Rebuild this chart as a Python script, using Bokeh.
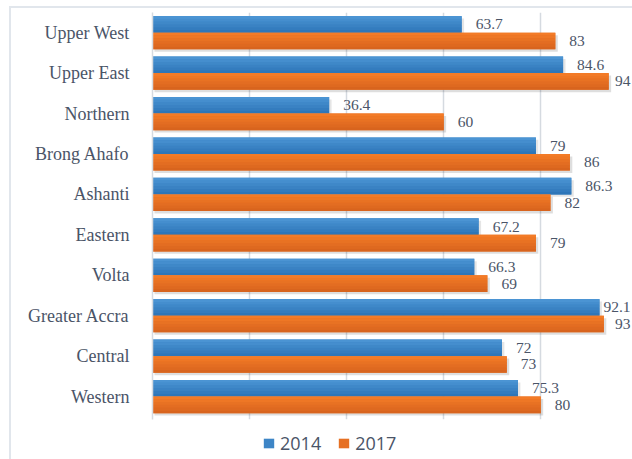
from bokeh.plotting import figure
from bokeh.models import ColumnDataSource, Range1d, Legend, LegendItem, FixedTicker
from bokeh.transform import dodge
from bokeh.core.properties import value
from bokeh.embed import file_html
from bokeh.resources import INLINE

# ---- data ----
regions = ["Upper West", "Upper East", "Northern", "Brong Ahafo", "Ashanti",
           "Eastern", "Volta", "Greater Accra", "Central", "Western"]
v2014 = [63.7, 84.6, 36.4, 79, 86.3, 67.2, 66.3, 92.1, 72, 75.3]
v2017 = [83, 94, 60, 86, 82, 79, 69, 93, 73, 80]
years = ["2014", "2017"]
x_ticks = [0, 20, 40, 60, 80]

# ---- styles ----
BLUE_TOP, BLUE_BOT = (78, 152, 214), (44, 115, 182)
OR_TOP, OR_BOT = (246, 126, 40), (214, 98, 30)
TEXT = "#4A5467"
GRID = "#D5DAE0"
X_END = 98.9
OFF = 0.205
H = 0.41
BELOW = 1.056   # room under the last category for the legend (category units)

n = len(regions)
ypos = [n - 1 - i for i in range(n)]   # first region on top

def fmt(v):
    return "%g" % v

src = ColumnDataSource(dict(region=regions, y=ypos, v2014=v2014, v2017=v2017,
                            s2014=[v + 0.5 for v in v2014], s2017=[v + 0.5 for v in v2017]))

p = figure(width=632, height=459, output_backend="svg", toolbar_location=None,
           y_range=Range1d(-0.5 - BELOW, n - 0.5),
           x_range=Range1d(0, X_END),
           min_border_left=152, min_border_right=0, min_border_top=12, min_border_bottom=0)
p.border_fill_color = None
p.styles = {"background":
            "linear-gradient(#E1E6EC,#E1E6EC) 9px 6px / 2px 100% no-repeat,"
            " linear-gradient(#E1E6EC,#E1E6EC) 9px 6px / 100% 2px no-repeat, white"}
p.outline_line_color = None
p.background_fill_color = "white"

# white panel under the categories (hides the grid there)
p.quad(left=0, right=X_END, bottom=-0.5 - BELOW, top=-0.56, fill_color="white", line_color=None)

# shadows
p.hbar(y=dodge("y", OFF - 0.06, range=p.y_range), left=0.4, right="s2014", height=H,
       source=src, fill_color="black", fill_alpha=0.10, line_color=None)
p.hbar(y=dodge("y", -OFF - 0.06, range=p.y_range), left=0.4, right="s2017", height=H,
       source=src, fill_color="black", fill_alpha=0.13, line_color=None)

def grad(col, top, bot, center, k=6):
    base = p.hbar(y=dodge("y", center, range=p.y_range), left=0, right=col, height=H,
                  source=src, fill_color="#%02x%02x%02x" % tuple((a + b) // 2 for a, b in zip(top, bot)),
                  line_color=None)
    step = H / k
    for i in range(k):
        t = (i + 0.5) / k
        c = tuple(int(a + (b - a) * t) for a, b in zip(top, bot))
        yc = center + H / 2 - step * (i + 0.5)
        p.hbar(y=dodge("y", yc, range=p.y_range), left=0, right=col, height=step * 1.02,
               source=src, fill_color="#%02x%02x%02x" % c, line_color=None)
    return base

r14 = grad("v2014", BLUE_TOP, BLUE_BOT, OFF)
r17 = grad("v2017", OR_TOP, OR_BOT, -OFF)

# data labels
def labels(vals, center):
    xs, al, xo, tx = [], [], [], []
    for v in vals:
        tx.append(fmt(v))
        if v > 90:
            xs.append(X_END); al.append("right"); xo.append(-2)
        else:
            xs.append(v); al.append("left"); xo.append(14)
    s = ColumnDataSource(dict(y=ypos, x=xs, align=al, xoff=xo, text=tx))
    p.text(x="x", y=dodge("y", center, range=p.y_range), text="text", source=s,
           text_align="align", x_offset="xoff", text_baseline="middle",
           text_font=value("Liberation Serif"), text_font_size="15.5px", text_color=TEXT)

labels(v2014, OFF)
labels(v2017, -OFF)

# axes / grid
p.xaxis.ticker = FixedTicker(ticks=x_ticks)
p.xaxis.visible = False
p.xgrid.grid_line_color = GRID
p.xgrid.grid_line_width = 1.5
p.ygrid.grid_line_color = None
yax = p.yaxis[0]
yax.ticker = FixedTicker(ticks=ypos)
yax.major_label_overrides = {y: r for y, r in zip(ypos, regions)}
yax.bounds = (-0.56, n - 0.5)
yax.axis_line_color = GRID
yax.axis_line_width = 1.5
yax.major_tick_line_color = None
yax.minor_tick_line_color = None
yax.major_label_standoff = 17
yax.major_label_text_font = "Liberation Serif"
yax.major_label_text_font_size = "18px"
yax.major_label_text_color = TEXT

legend = Legend(items=[LegendItem(label=years[0], renderers=[r14]),
                       LegendItem(label=years[1], renderers=[r17])],
                orientation="horizontal", location=(110, 4),
                glyph_width=13, glyph_height=12, label_standoff=5, spacing=16,
                padding=0, margin=0, border_line_color=None, background_fill_alpha=0,
                label_text_font="Open Sans", label_text_font_size="18px",
                label_text_color=TEXT, label_height=20)
p.add_layout(legend, "center")

open("out.html", "w").write(file_html(p, INLINE))
